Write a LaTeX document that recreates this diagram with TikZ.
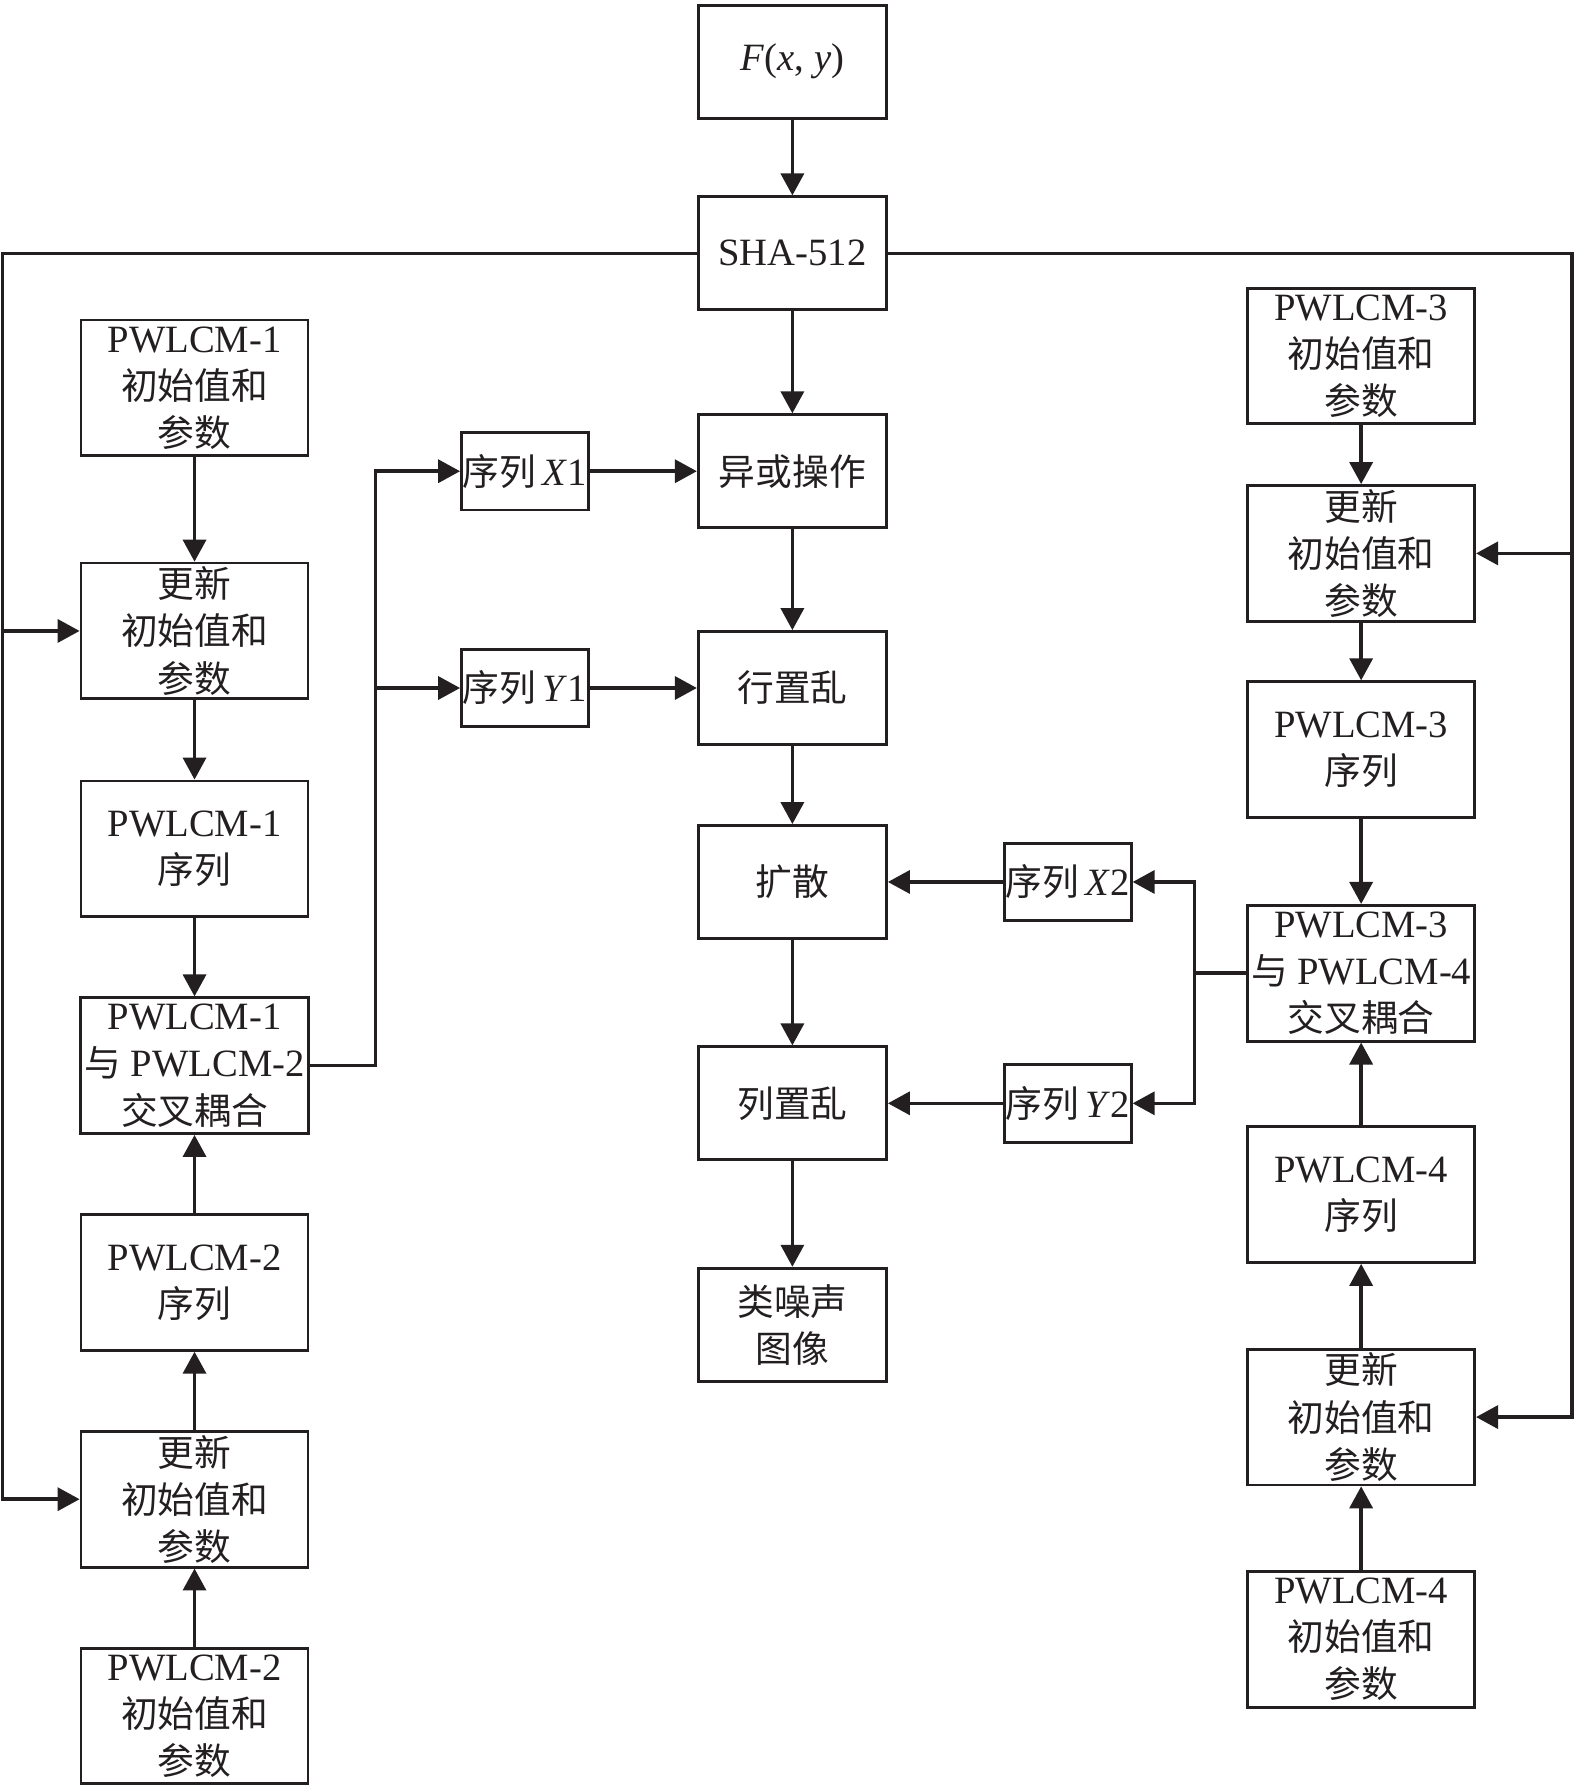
\documentclass[tikz,border=0pt]{standalone}
\usepackage{fontspec}
\setmainfont{Liberation Serif}
\newfontfamily\zhfont{Noto Sans CJK SC}[Scale=0.95]
\newcommand{\zh}[1]{{\zhfont #1}}
\definecolor{ink}{RGB}{35,31,32}
\usepackage{tikz}
\usetikzlibrary{arrows.meta}

\tikzset{
  box/.style={draw=ink,line width=0.8pt,text=ink,align=center,inner sep=1pt,
    minimum width=1.883cm,minimum height=1.130cm,
    font=\fontsize{11}{13.4}\selectfont},
  sidebox/.style={box,minimum width=2.271cm,minimum height=1.358cm},
  seqbox/.style={box,inner sep=0pt,minimum width=1.267cm,minimum height=0.776cm},
  line/.style={draw=ink,line width=1pt},
  arr/.style={line,-{Triangle[length=2.2mm,width=2.3mm]}}
}

\begin{document}
\begin{tikzpicture}[x=0.11413mm,y=-0.11413mm]
  \useasboundingbox (0,0) rectangle (1380,1568);

  % main column
  \node[box] (F)     at (694.5,54)   {\textit{F}(\textit{x}, \textit{y})};
  \node[box] (sha)   at (694.5,222)  {SHA-512};
  \node[box] (xor)   at (694.5,413)  {\zh{异或操作}};
  \node[box] (row)   at (694.5,603)  {\zh{行置乱}};
  \node[box] (diff)  at (694.5,773)  {\zh{扩散}};
  \node[box] (col)   at (694.5,967)  {\zh{列置乱}};
  \node[box] (noise) at (694.5,1161) {\zh{类噪声}\\\zh{图像}};

  % left column: PWLCM-1 / PWLCM-2
  \node[sidebox] (init1) at (170.5,340)  {PWLCM-1\\\zh{初始值和}\\\zh{参数}};
  \node[sidebox] (upd1)  at (170.5,553)  {\zh{更新}\\\zh{初始值和}\\\zh{参数}};
  \node[sidebox] (seq1)  at (170.5,744)  {PWLCM-1\\\zh{序列}};
  \node[sidebox] (cpl1)  at (170.5,934)  {PWLCM-1\\\zh{与} PWLCM-2\\\zh{交叉耦合}};
  \node[sidebox] (seq2)  at (170.5,1124) {PWLCM-2\\\zh{序列}};
  \node[sidebox] (upd2)  at (170.5,1314) {\zh{更新}\\\zh{初始值和}\\\zh{参数}};
  \node[sidebox] (init2) at (170.5,1504) {PWLCM-2\\\zh{初始值和}\\\zh{参数}};

  % right column: PWLCM-3 / PWLCM-4
  \node[sidebox] (init3) at (1193,312)  {PWLCM-3\\\zh{初始值和}\\\zh{参数}};
  \node[sidebox] (upd3)  at (1193,485)  {\zh{更新}\\\zh{初始值和}\\\zh{参数}};
  \node[sidebox] (seq3)  at (1193,657)  {PWLCM-3\\\zh{序列}};
  \node[sidebox] (cpl2)  at (1193,853)  {PWLCM-3\\\zh{与} PWLCM-4\\\zh{交叉耦合}};
  \node[sidebox] (seq4)  at (1193,1047) {PWLCM-4\\\zh{序列}};
  \node[sidebox] (upd4)  at (1193,1242) {\zh{更新}\\\zh{初始值和}\\\zh{参数}};
  \node[sidebox] (init4) at (1193,1437) {PWLCM-4\\\zh{初始值和}\\\zh{参数}};

  % sequences
  \node[seqbox] (x1) at (460,413) {\zh{序列}\,\textit{X}1};
  \node[seqbox] (y1) at (460,603) {\zh{序列}\,\textit{Y}1};
  \node[seqbox] (x2) at (936,773) {\zh{序列}\,\textit{X}2};
  \node[seqbox] (y2) at (936,967) {\zh{序列}\,\textit{Y}2};

  % bus and branch points
  \coordinate (lbus) at (2,1314);
  \coordinate (rbus) at (1378,1242);
  \coordinate (jl) at (329,413);
  \coordinate (jr) at (1047,773);

  % main flow
  \draw[arr] (F) -- (sha);
  \draw[arr] (sha) -- (xor);
  \draw[arr] (xor) -- (row);
  \draw[arr] (row) -- (diff);
  \draw[arr] (diff) -- (col);
  \draw[arr] (col) -- (noise);

  \draw[arr] (x1) -- (xor);
  \draw[arr] (y1) -- (row);
  \draw[arr] (x2) -- (diff);
  \draw[arr] (y2) -- (col);

  % left chain
  \draw[arr] (init1) -- (upd1);
  \draw[arr] (upd1) -- (seq1);
  \draw[arr] (seq1) -- (cpl1);
  \draw[arr] (init2) -- (upd2);
  \draw[arr] (upd2) -- (seq2);
  \draw[arr] (seq2) -- (cpl1);

  % right chain
  \draw[arr] (init3) -- (upd3);
  \draw[arr] (upd3) -- (seq3);
  \draw[arr] (seq3) -- (cpl2);
  \draw[arr] (init4) -- (upd4);
  \draw[arr] (upd4) -- (seq4);
  \draw[arr] (seq4) -- (cpl2);

  % hash value to the updates
  \draw[arr] (sha) -| (lbus) -- (upd2);
  \draw[arr] (lbus |- upd1) -- (upd1);
  \draw[arr] (sha) -| (rbus) -- (upd4);
  \draw[arr] (rbus |- upd3) -- (upd3);

  % coupled sequences
  \draw[arr] (cpl1) -| (jl) -- (x1);
  \draw[arr] (jl |- y1) -- (y1);
  \draw[arr] (cpl2) -| (jr) -- (x2);
  \draw[arr] (jr) |- (y2);
\end{tikzpicture}
\end{document}
